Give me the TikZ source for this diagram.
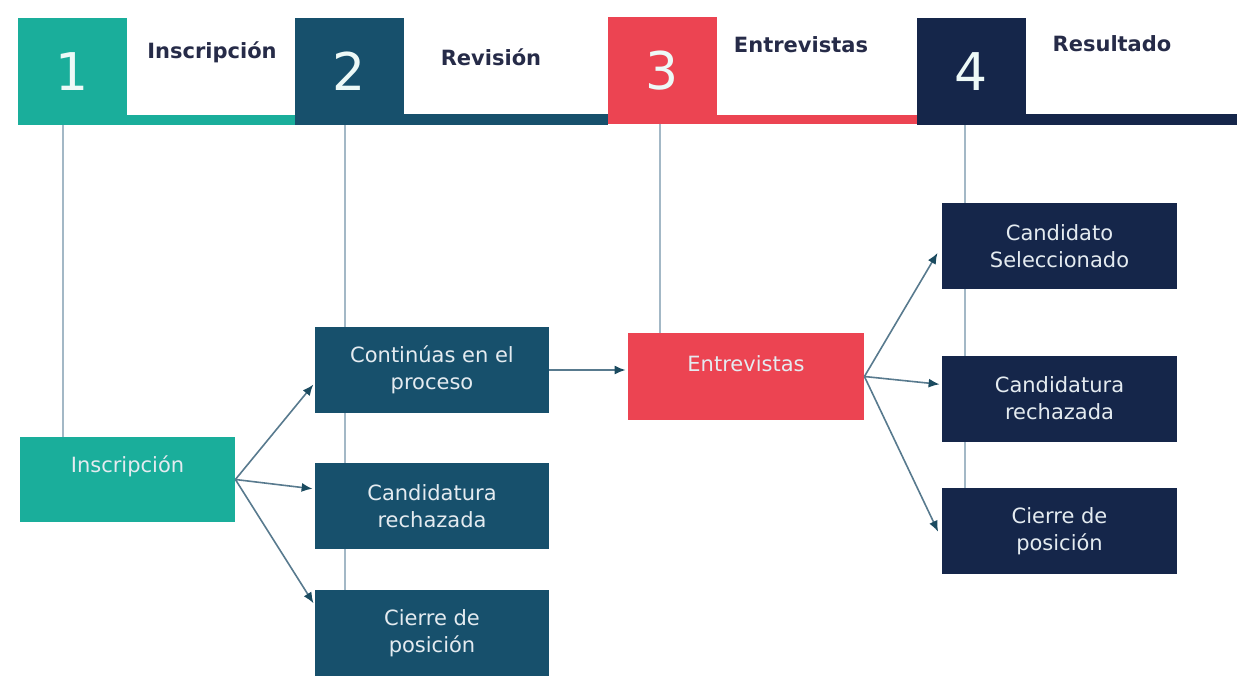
\documentclass[tikz,border=0pt]{standalone}
\usepackage{fontspec}
\setmainfont{DejaVu Sans}
\usepackage{tikz}
\usetikzlibrary{arrows.meta,backgrounds,positioning}
\definecolor{tealc}{HTML}{1AAE9B}
\definecolor{petrol}{HTML}{17506C}
\definecolor{redc}{HTML}{EC4452}
\definecolor{navy}{HTML}{15264A}
\definecolor{labelc}{HTML}{262B48}
\definecolor{vlinec}{HTML}{A3B8C6}
\definecolor{arrowc}{HTML}{587A8E}
\definecolor{tipc}{HTML}{1B4B60}
\definecolor{boxtext}{HTML}{E4EBF0}
\begin{document}
\begin{tikzpicture}[->,>={Latex[length=5.5pt,width=4.5pt,color=tipc]},shorten >=1pt,x=0.5pt,y=-0.5pt]
\tikzstyle{numbox}=[minimum width=54.5pt,minimum height=53.5pt,inner sep=0pt,text=white!92!tealc,font=\fontsize{26}{26}\selectfont]
\tikzstyle{phase}=[text=labelc,font=\fontsize{10.5}{12}\selectfont\bfseries]
\tikzstyle{stage}=[minimum width=117pt,minimum height=43pt,inner sep=0pt,align=center,text=boxtext,font=\fontsize{10.5}{13.5}\selectfont]
\tikzstyle{link}=[draw=arrowc,line width=0.8pt]
\tikzstyle{vline}=[-,shorten >=0pt,draw=vlinec,line width=1pt]
\useasboundingbox (0,0) rectangle (1237,675);
% header
\node[numbox,fill=tealc] (n1) at (72.5,71.5) {1};
\node[numbox,fill=petrol] (n2) at (349.5,71.5) {2};
\node[numbox,fill=redc] (n3) at (662.5,70.5) {3};
\node[numbox,fill=navy] (n4) at (971.5,71.5) {4};
\node[phase] (l1) at (212,52) {Inscripción};
\node[phase] (l2) at (491,57) {Revisión};
\node[phase] (l3) at (801,45) {Entrevistas};
\node[phase] (l4) at (1112,44) {Resultado};
\coordinate (barend) at (1237,114);
\fill[tealc] (n1.south east) rectangle ([yshift=5pt]n2.south west);
\fill[petrol] (n2.south east) rectangle ([yshift=5pt]n3.south west);
\fill[redc] (n3.south east) rectangle ([yshift=5pt]n4.south west);
\fill[navy] (n4.south east) rectangle (barend);
% stages
\node[stage,fill=tealc,minimum width=107.5pt,minimum height=42.5pt,text height=8pt,text depth=15.4pt] (insc) at (127.5,479.5) {Inscripción};
\node[stage,fill=petrol] (cont) at (432,370) {Continúas en el\\proceso};
\node[stage,fill=petrol] (rech1) at (432,506) {Candidatura\\rechazada};
\node[stage,fill=petrol] (cierre1) at (432,633) {Cierre de\\posición};
\node[stage,fill=redc,minimum width=118pt,minimum height=43.5pt,text height=8pt,text depth=13.4pt] (entr) at (746,376.5) {Entrevistas};
\node[stage,fill=navy,minimum width=117.5pt] (sel) at (1059.5,246) {Candidato\\Seleccionado};
\node[stage,fill=navy,minimum width=117.5pt] (rech2) at (1059.5,398.5) {Candidatura\\rechazada};
\node[stage,fill=navy,minimum width=117.5pt] (cierre2) at (1059.5,531) {Cierre de\\posición};
% guide lines
\begin{pgfonlayer}{background}
\draw[vline] ([xshift=-4.75pt]n1.south) -- ([xshift=-4.75pt]n1.south |- insc.north);
\draw[vline] ([xshift=-2.25pt]n2.south) -- ([xshift=-2.25pt]n2.south |- cierre1.north);
\draw[vline] ([xshift=-1.25pt]n3.south) -- ([xshift=-1.25pt]n3.south |- entr.north);
\draw[vline] ([xshift=-3.25pt]n4.south) -- ([xshift=-3.25pt]n4.south |- cierre2.north);
\end{pgfonlayer}
% arrows
\draw[link] (insc.east) -- ([yshift=-6.5pt]cont.west);
\draw[link] (insc.east) -- ([yshift=8.5pt]rech1.west);
\draw[link] (insc.east) -- ([yshift=14pt]cierre1.west);
\draw[link] (cont.east) -- (cont.east -| entr.west);
\draw[link,shorten >=4pt] (entr.east) -- (sel.west);
\draw[link] (entr.east) -- ([yshift=7pt]rech2.west);
\draw[link,shorten >=4pt] (entr.east) -- ([yshift=-4pt]cierre2.west);
\end{tikzpicture}
\end{document}
